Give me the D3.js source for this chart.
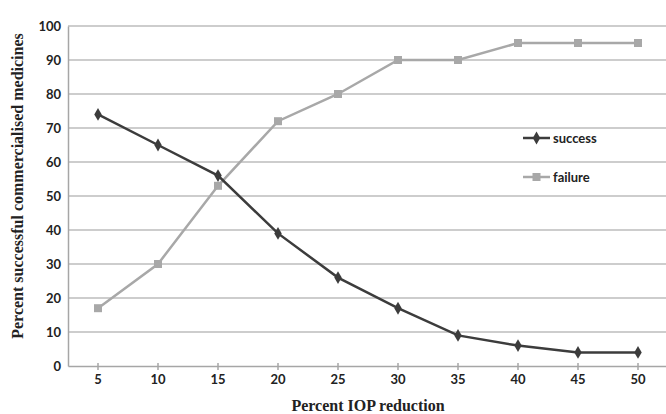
<!DOCTYPE html>
<html lang="en">
<head>
<meta charset="UTF-8">
<title>Percent IOP reduction</title>
<script src="https://d3js.org/d3.v7.min.js"></script>
<style>
    body { margin: 0; padding: 0; background: #fff; }
    .tick text { font-family: 'Lato', sans-serif; font-weight: bold; font-size: 13px; fill: #222; }
    .title { font-family: 'Liberation Serif', 'Times New Roman', serif; font-weight: bold; font-size: 16px; fill: #222; }
    .legend { font-family: 'Lato', sans-serif; font-weight: bold; font-size: 13px; fill: #222; }
</style>
</head>
<body>
<div id="chart"></div>
<script>
    const reductions = ["5", "10", "15", "20", "25", "30", "35", "40", "45", "50"];
    const success = [74, 65, 56, 39, 26, 17, 9, 6, 4, 4];
    const failure = [17, 30, 53, 72, 80, 90, 90, 95, 95, 95];
    const yTicks = [0, 10, 20, 30, 40, 50, 60, 70, 80, 90, 100];

    const W = 666, H = 414;
    const margin = { top: 26, right: -2, bottom: 48, left: 68 };
    const width = W - margin.left - margin.right;
    const height = H - margin.top - margin.bottom;

    const svg = d3.select("#chart").append("svg")
        .attr("width", W)
        .attr("height", H);
    const g = svg.append("g")
        .attr("transform", "translate(" + margin.left + "," + margin.top + ")");

    const x = d3.scaleBand().domain(reductions).range([0, width]);
    const y = d3.scaleLinear().domain([0, 100]).range([height, 0]);
    const cx = d => x(d) + x.bandwidth() / 2;

    // gridlines
    g.append("g")
        .selectAll("line")
        .data(yTicks.filter(t => t > 0))
        .enter().append("line")
        .attr("x1", 0).attr("x2", width)
        .attr("y1", d => y(d)).attr("y2", d => y(d))
        .attr("stroke", "#bdbdbd").attr("stroke-width", 1.5);

    // y axis
    const yAxis = g.append("g")
        .call(d3.axisLeft(y).tickValues(yTicks).tickSize(0).tickPadding(7));
    yAxis.select(".domain").attr("stroke", "#a6a6a6").attr("stroke-width", 1.5);

    // x axis
    const xAxis = g.append("g")
        .attr("transform", "translate(0," + height + ")")
        .call(d3.axisBottom(x).tickSizeInner(4).tickSizeOuter(0).tickPadding(5));
    xAxis.select(".domain").attr("stroke", "#a6a6a6").attr("stroke-width", 1.5);
    xAxis.selectAll(".tick line").attr("stroke", "#a6a6a6").attr("stroke-width", 1.5).attr("y1", -3);

    const line = d3.line()
        .x((d, i) => cx(reductions[i]))
        .y(d => y(d));

    // failure series
    g.append("path")
        .datum(failure)
        .attr("fill", "none")
        .attr("stroke", "#a8a8a8")
        .attr("stroke-width", 2.5)
        .attr("d", line);
    g.selectAll(".fail")
        .data(failure)
        .enter().append("rect")
        .attr("class", "fail")
        .attr("x", (d, i) => cx(reductions[i]) - 4)
        .attr("y", d => y(d) - 4)
        .attr("width", 8).attr("height", 8)
        .attr("fill", "#a8a8a8");

    // success series
    g.append("path")
        .datum(success)
        .attr("fill", "none")
        .attr("stroke", "#3c3c3c")
        .attr("stroke-width", 2.5)
        .attr("d", line);
    const diamond = d3.symbol().type(d3.symbolDiamond).size(48);
    g.selectAll(".succ")
        .data(success)
        .enter().append("path")
        .attr("class", "succ")
        .attr("transform", (d, i) => "translate(" + cx(reductions[i]) + "," + y(d) + ")")
        .attr("d", diamond)
        .attr("fill", "#3c3c3c");

    // legend
    const legend = svg.append("g").attr("transform", "translate(523,0)");
    legend.append("line").attr("x1", 0).attr("x2", 27).attr("y1", 138).attr("y2", 138)
        .attr("stroke", "#3c3c3c").attr("stroke-width", 2.5);
    legend.append("path").attr("transform", "translate(13.5,138)").attr("d", diamond).attr("fill", "#3c3c3c");
    legend.append("text").attr("class", "legend").attr("x", 30).attr("y", 142.5).text("success");
    legend.append("line").attr("x1", 0).attr("x2", 27).attr("y1", 177).attr("y2", 177)
        .attr("stroke", "#a8a8a8").attr("stroke-width", 2.5);
    legend.append("rect").attr("x", 9.5).attr("y", 173).attr("width", 8).attr("height", 8).attr("fill", "#a8a8a8");
    legend.append("text").attr("class", "legend").attr("x", 30).attr("y", 181.5).text("failure");

    // axis titles
    svg.append("text")
        .attr("class", "title")
        .attr("x", margin.left + width / 2)
        .attr("y", 411)
        .attr("text-anchor", "middle")
        .text("Percent IOP reduction");

    svg.append("text")
        .attr("class", "title")
        .attr("transform", "translate(23," + (margin.top + height / 2 - 10) + ") rotate(-90)")
        .attr("text-anchor", "middle")
        .text("Percent successful commercialised medicines");
</script>
</body>
</html>
